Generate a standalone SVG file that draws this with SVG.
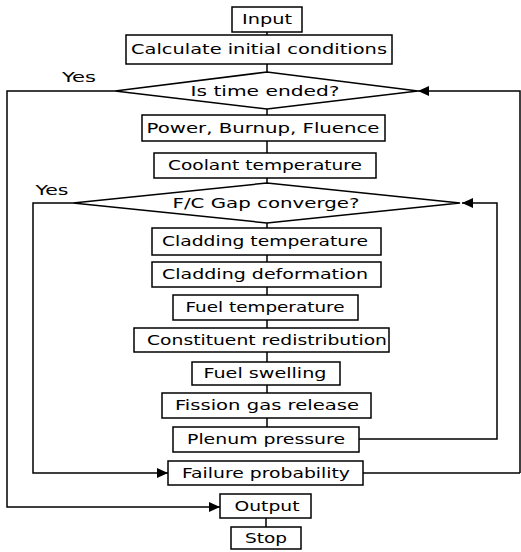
<svg xmlns="http://www.w3.org/2000/svg" width="521" height="552" viewBox="0 0 521 552">
<style>
.b{fill:#fff;stroke:#000;stroke-width:1.5}
.t{font-family:"DejaVu Sans","Liberation Sans",sans-serif;font-size:14px;fill:#000;text-anchor:middle}
.l{fill:none;stroke:#000;stroke-width:1.5}
</style>
<defs>
<marker id="a" markerUnits="userSpaceOnUse" markerWidth="12" markerHeight="10" refX="11" refY="5" orient="auto">
<path d="M0,0 L11,5 L0,10 Z" fill="#000"/>
</marker>
</defs>
<rect width="521" height="552" fill="#fff"/>
<g id="connectors">
<path class="l" d="M267,32V35M267,64V72M267,109V115M267,141V153M267,178V183M267,223V228M267,255V262M267,287V295M267,320V328M267,352V362M267,385V393M267,418V427M266,518V527"/>
<path class="l" d="M115,91H7V507H220" marker-end="url(#a)"/>
<path class="l" d="M520,473V91H418" marker-end="url(#a)"/>
<path class="l" d="M363,473H520"/>
<path class="l" d="M73,203H33V473H168" marker-end="url(#a)"/>
<path class="l" d="M359,439H497V203H462" marker-end="url(#a)"/>
<text class="t" x="79" y="82" textLength="34" lengthAdjust="spacingAndGlyphs">Yes</text>
<text class="t" x="52" y="195" textLength="33" lengthAdjust="spacingAndGlyphs">Yes</text>
</g>
<g id="input"><rect class="b" x="232" y="7" width="70" height="25"/><text class="t" x="267" y="24" textLength="50" lengthAdjust="spacingAndGlyphs">Input</text></g>
<g id="calc"><rect class="b" x="126" y="35" width="266" height="29"/><text class="t" x="259" y="54" textLength="256" lengthAdjust="spacingAndGlyphs">Calculate initial conditions</text></g>
<g id="time"><polygon class="b" points="115,91 267,72 418,91 267,109"/><text class="t" x="265" y="96" textLength="149" lengthAdjust="spacingAndGlyphs">Is time ended?</text></g>
<g id="power"><rect class="b" x="142" y="115" width="243" height="26"/><text class="t" x="263" y="133" textLength="233" lengthAdjust="spacingAndGlyphs">Power, Burnup, Fluence</text></g>
<g id="coolant"><rect class="b" x="154" y="153" width="222" height="25"/><text class="t" x="265" y="170" textLength="194" lengthAdjust="spacingAndGlyphs">Coolant temperature</text></g>
<g id="gap"><polygon class="b" points="73,203 267,183 460,203 267,223"/><text class="t" x="266" y="208" textLength="187" lengthAdjust="spacingAndGlyphs">F/C Gap converge?</text></g>
<g id="cladtemp"><rect class="b" x="152" y="228" width="229" height="27"/><text class="t" x="265" y="246" textLength="206" lengthAdjust="spacingAndGlyphs">Cladding temperature</text></g>
<g id="claddef"><rect class="b" x="152" y="262" width="229" height="25"/><text class="t" x="265" y="279" textLength="206" lengthAdjust="spacingAndGlyphs">Cladding deformation</text></g>
<g id="fueltemp"><rect class="b" x="173" y="295" width="185" height="25"/><text class="t" x="265" y="312" textLength="159" lengthAdjust="spacingAndGlyphs">Fuel temperature</text></g>
<g id="constituent"><rect class="b" x="134" y="328" width="255" height="24"/><text class="t" x="267" y="345" textLength="240" lengthAdjust="spacingAndGlyphs">Constituent redistribution</text></g>
<g id="swelling"><rect class="b" x="192" y="362" width="148" height="23"/><text class="t" x="265" y="378" textLength="123" lengthAdjust="spacingAndGlyphs">Fuel swelling</text></g>
<g id="fission"><rect class="b" x="162" y="393" width="209" height="25"/><text class="t" x="267" y="410" textLength="184" lengthAdjust="spacingAndGlyphs">Fission gas release</text></g>
<g id="plenum"><rect class="b" x="173" y="427" width="186" height="25"/><text class="t" x="266" y="444" textLength="158" lengthAdjust="spacingAndGlyphs">Plenum pressure</text></g>
<g id="failure"><rect class="b" x="168" y="461" width="195" height="24"/><text class="t" x="266" y="478" textLength="168" lengthAdjust="spacingAndGlyphs">Failure probability</text></g>
<g id="output"><rect class="b" x="220" y="494" width="91" height="24"/><text class="t" x="267" y="511" textLength="65" lengthAdjust="spacingAndGlyphs">Output</text></g>
<g id="stop"><rect class="b" x="231" y="527" width="70" height="22"/><text class="t" x="266" y="543" textLength="42" lengthAdjust="spacingAndGlyphs">Stop</text></g>
</svg>
